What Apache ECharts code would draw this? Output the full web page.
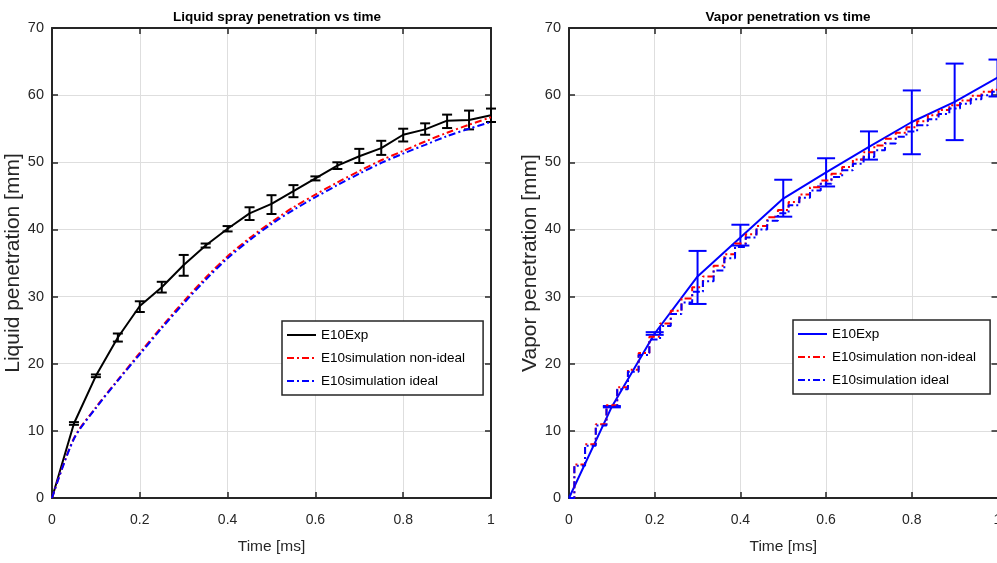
<!DOCTYPE html>
<html>
<head>
<meta charset="utf-8">
<script src="https://cdn.jsdelivr.net/npm/echarts@6/dist/echarts.min.js"></script>
<style>
html,body{margin:0;padding:0;background:#fff;}
#c{width:997px;height:563px;}
</style>
</head>
<body>
<div id="c"></div>
<script>
// ---------- Data ----------
const titles = ['Liquid spray penetration vs time', 'Vapor penetration vs time'];
const yNames = ['Liquid penetration [mm]', 'Vapor penetration [mm]'];
const xName = 'Time [ms]';
const legendNames = ['E10Exp', 'E10simulation non-ideal', 'E10simulation ideal'];

// Left: liquid spray penetration
const tLiq = [0, 0.05, 0.1, 0.15, 0.2, 0.25, 0.3, 0.35, 0.4, 0.45, 0.5, 0.55, 0.6, 0.65, 0.7, 0.75, 0.8, 0.85, 0.9, 0.95, 1.0];
const liqExp = [0, 11.1, 18.2, 23.9, 28.6, 31.4, 34.7, 37.6, 40.1, 42.4, 43.8, 45.7, 47.6, 49.5, 50.9, 52.1, 54.1, 54.9, 56.2, 56.3, 57.0];
const liqExpLow = [null, 10.9, 18.0, 23.3, 27.7, 30.6, 33.1, 37.3, 39.7, 41.4, 42.3, 44.8, 47.3, 49.0, 49.9, 51.1, 53.1, 54.1, 55.1, 54.9, 56.0];
const liqExpHigh = [null, 11.3, 18.4, 24.5, 29.3, 32.2, 36.2, 37.9, 40.5, 43.3, 45.1, 46.6, 47.9, 50.0, 52.0, 53.2, 55.0, 55.8, 57.1, 57.7, 58.0];
const liqSimNonIdeal = [0, 8.9, 13.5, 17.6, 21.6, 25.5, 29.3, 32.8, 36.0, 38.7, 41.1, 43.3, 45.2, 47.0, 48.7, 50.3, 51.7, 53.1, 54.4, 55.6, 56.7];
const liqSimIdeal = [0, 8.8, 13.4, 17.5, 21.4, 25.3, 29.0, 32.5, 35.7, 38.4, 40.8, 42.9, 44.8, 46.6, 48.3, 49.9, 51.3, 52.6, 53.9, 55.0, 56.0];

// Right: vapor penetration
const tVap = [0, 0.1, 0.2, 0.3, 0.4, 0.5, 0.6, 0.7, 0.8, 0.9, 1.0];
const vapExp = [0, 13.6, 24.5, 33.0, 38.8, 44.6, 48.5, 52.3, 56.0, 59.0, 62.6];
const vapExpLow = [null, 13.5, 24.3, 28.9, 37.6, 41.9, 46.4, 50.4, 51.2, 53.3, 59.8];
const vapExpHigh = [null, 13.7, 24.7, 36.8, 40.7, 47.4, 50.6, 54.6, 60.7, 64.7, 65.3];
const tVapSim = [0, 0.025, 0.05, 0.075, 0.1, 0.125, 0.15, 0.175, 0.2, 0.225, 0.25, 0.275, 0.3, 0.325, 0.35, 0.375, 0.4, 0.425, 0.45, 0.475, 0.5, 0.525, 0.55, 0.575, 0.6, 0.625, 0.65, 0.675, 0.7, 0.725, 0.75, 0.775, 0.8, 0.825, 0.85, 0.875, 0.9, 0.925, 0.95, 0.975, 1.0];
const vapSimNonIdeal = [0, 5.0, 8.0, 11.0, 13.8, 16.5, 19.1, 21.6, 24.0, 26.0, 27.9, 29.7, 31.4, 33.0, 34.6, 36.3, 37.9, 39.3, 40.5, 41.8, 42.9, 44.1, 45.2, 46.3, 47.3, 48.3, 49.3, 50.4, 51.5, 52.5, 53.5, 54.4, 55.2, 56.1, 57.0, 57.8, 58.5, 59.2, 59.9, 60.5, 60.8];
const vapSimIdeal = [0, 4.8, 7.8, 10.8, 13.6, 16.2, 18.8, 21.3, 23.6, 25.6, 27.4, 29.1, 30.7, 32.3, 33.9, 35.7, 37.4, 38.8, 40.0, 41.3, 42.4, 43.6, 44.7, 45.8, 46.8, 47.8, 48.8, 49.8, 50.8, 51.8, 52.8, 53.8, 54.6, 55.5, 56.4, 57.2, 58.0, 58.7, 59.4, 60.0, 60.5];

// ---------- Helpers ----------
const FONT = '"Liberation Sans", Arial, sans-serif';
const AX = '#262626';
const zip = (xs, ys) => xs.map((x, i) => [x, ys[i]]);
const errData = (xs, lo, hi) => xs.map((x, i) => [x, lo[i], hi[i]]).filter(d => d[1] != null);
const DASHDOT = [7, 3, 2, 3];

function errRender(cap) {
  return function (params, api) {
    const x = api.value(0), lo = api.value(1), hi = api.value(2);
    const p1 = api.coord([x, lo]), p2 = api.coord([x, hi]);
    const style = { stroke: api.visual('color'), lineWidth: 2 };
    return {
      type: 'group',
      children: [
        { type: 'line', shape: { x1: p1[0], y1: p1[1], x2: p2[0], y2: p2[1] }, style },
        { type: 'line', shape: { x1: p1[0] - cap, y1: p1[1], x2: p1[0] + cap, y2: p1[1] }, style },
        { type: 'line', shape: { x1: p2[0] - cap, y1: p2[1], x2: p2[0] + cap, y2: p2[1] }, style }
      ]
    };
  };
}

function xAxes(gi, name) {
  return [
    {
      type: 'value', gridIndex: gi, min: 0, max: 1, interval: 0.2, position: 'bottom',
      name: name, nameLocation: 'middle', nameGap: 41,
      nameTextStyle: { fontFamily: FONT, fontSize: 15.5, color: AX },
      axisLine: { show: true, onZero: false, lineStyle: { color: AX, width: 2 } },
      axisTick: { show: true, inside: true, length: 6, lineStyle: { color: AX, width: 1.5 } },
      axisLabel: { fontFamily: FONT, fontSize: 14, color: AX, margin: 15, showMaxLabel: true, hideOverlap: false,
        formatter: v => String(Math.round(v * 10) / 10) },
      splitLine: { show: true, lineStyle: { color: '#dedede', width: 1 } }
    },
    {
      type: 'value', gridIndex: gi, min: 0, max: 1, interval: 0.2, position: 'top',
      axisLine: { show: true, onZero: false, lineStyle: { color: AX, width: 2 } },
      axisTick: { show: true, inside: true, length: 6, lineStyle: { color: AX, width: 1.5 } },
      axisLabel: { show: false }, splitLine: { show: false }
    }
  ];
}
function yAxes(gi, name) {
  return [
    {
      type: 'value', gridIndex: gi, min: 0, max: 70, interval: 10, position: 'left',
      name: name, nameLocation: 'middle', nameGap: 24,
      nameTextStyle: { fontFamily: FONT, fontSize: 21, color: AX },
      axisLine: { show: true, onZero: false, lineStyle: { color: AX, width: 2 } },
      axisTick: { show: true, inside: true, length: 6, lineStyle: { color: AX, width: 1.5 } },
      axisLabel: { fontFamily: FONT, fontSize: 14.5, color: AX, margin: 8 },
      splitLine: { show: true, lineStyle: { color: '#dedede', width: 1 } }
    },
    {
      type: 'value', gridIndex: gi, min: 0, max: 70, interval: 10, position: 'right',
      axisLine: { show: true, onZero: false, lineStyle: { color: AX, width: 2 } },
      axisTick: { show: true, inside: true, length: 6, lineStyle: { color: AX, width: 1.5 } },
      axisLabel: { show: false }, splitLine: { show: false }
    }
  ];
}

const R = '_R'; // suffix to keep right-panel legend items distinct
const legendText = n => n.replace(/_R$/, '');
function legendBox(left, top, names, padRight) {
  return {
    orient: 'vertical', left: left, top: top, data: names,
    backgroundColor: '#fff', borderColor: AX, borderWidth: 1.5, borderRadius: 0,
    padding: [6, padRight, 6, 4], itemGap: 7, itemWidth: 29, itemHeight: 12,
    formatter: legendText, selectedMode: false,
    itemStyle: { opacity: 0 },
    textStyle: { fontFamily: FONT, fontSize: 13.5, color: '#000', lineHeight: 16 }
  };
}

const option = {
  animation: false,
  backgroundColor: '#fff',
  title: [
    { text: titles[0], left: 272, top: 5, textAlign: 'center',
      textStyle: { fontFamily: FONT, fontSize: 13.5, fontWeight: 'bold', color: '#000' } },
    { text: titles[1], left: 783, top: 5, textAlign: 'center',
      textStyle: { fontFamily: FONT, fontSize: 13.5, fontWeight: 'bold', color: '#000' } }
  ],
  grid: [
    { left: 52, top: 28, width: 439, height: 470, outerBoundsMode: 'none', containLabel: false },
    { left: 569, top: 28, width: 428.5, height: 470, outerBoundsMode: 'none', containLabel: false }
  ],
  xAxis: [...xAxes(0, xName), ...xAxes(1, xName)],
  yAxis: [...yAxes(0, yNames[0]), ...yAxes(1, yNames[1])],
  legend: [
    legendBox(282, 321, legendNames, 18),
    legendBox(793, 320, legendNames.map(n => n + R), 14)
  ],
  series: [
    // Left panel
    { name: legendNames[0], type: 'line', xAxisIndex: 0, yAxisIndex: 0, data: zip(tLiq, liqExp),
      symbol: 'none', lineStyle: { color: '#000', width: 2 }, itemStyle: { color: '#000' }, z: 3 },
    { type: 'custom', xAxisIndex: 0, yAxisIndex: 0, data: errData(tLiq, liqExpLow, liqExpHigh),
      renderItem: errRender(5), itemStyle: { color: '#000' }, encode: { x: 0, y: [1, 2] }, z: 3 },
    { name: legendNames[1], type: 'line', xAxisIndex: 0, yAxisIndex: 0, data: zip(tLiq, liqSimNonIdeal),
      symbol: 'none', smooth: 0.3, lineStyle: { color: '#ff0000', width: 2, type: DASHDOT }, itemStyle: { color: '#ff0000' }, z: 4 },
    { name: legendNames[2], type: 'line', xAxisIndex: 0, yAxisIndex: 0, data: zip(tLiq, liqSimIdeal),
      symbol: 'none', smooth: 0.3, lineStyle: { color: '#0000ff', width: 2, type: DASHDOT }, itemStyle: { color: '#0000ff' }, z: 4 },
    // Right panel
    { name: legendNames[0] + R, type: 'line', xAxisIndex: 2, yAxisIndex: 2, data: zip(tVap, vapExp),
      symbol: 'none', lineStyle: { color: '#0000ff', width: 2 }, itemStyle: { color: '#0000ff' }, z: 3 },
    { type: 'custom', xAxisIndex: 2, yAxisIndex: 2, data: errData(tVap, vapExpLow, vapExpHigh),
      renderItem: errRender(9), itemStyle: { color: '#0000ff' }, encode: { x: 0, y: [1, 2] }, z: 3 },
    { name: legendNames[1] + R, type: 'line', xAxisIndex: 2, yAxisIndex: 2, data: zip(tVapSim, vapSimNonIdeal),
      symbol: 'none', step: 'middle', lineStyle: { color: '#ff0000', width: 2, type: DASHDOT }, itemStyle: { color: '#ff0000' }, z: 4 },
    { name: legendNames[2] + R, type: 'line', xAxisIndex: 2, yAxisIndex: 2, data: zip(tVapSim, vapSimIdeal),
      symbol: 'none', step: 'middle', lineStyle: { color: '#0000ff', width: 2, type: DASHDOT }, itemStyle: { color: '#0000ff' }, z: 4 }
  ]
};

const chart = echarts.init(document.getElementById('c'), null, { renderer: 'canvas' });
chart.setOption(option);
</script>
</body>
</html>
